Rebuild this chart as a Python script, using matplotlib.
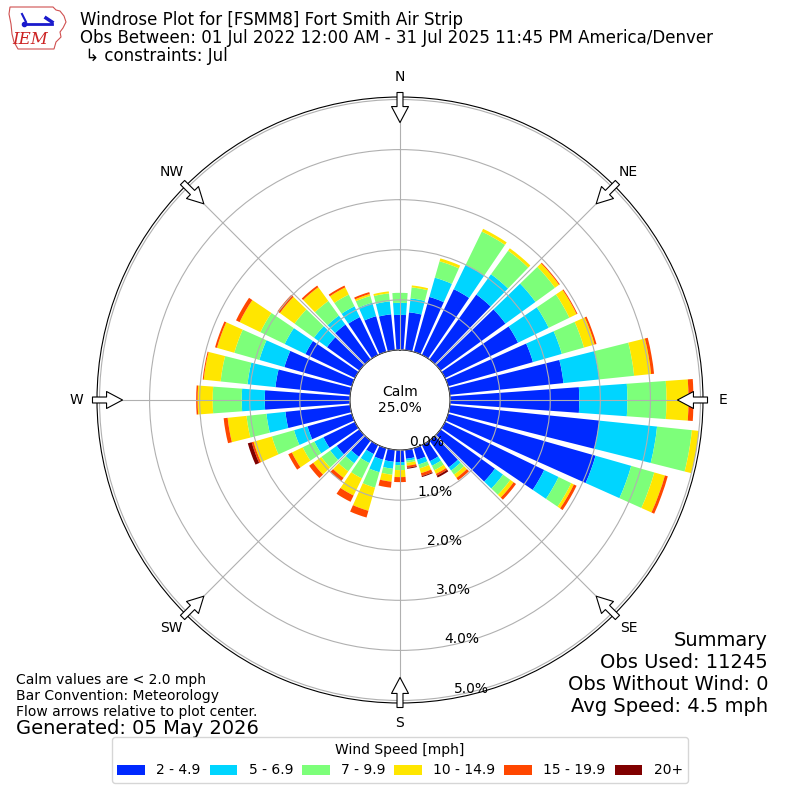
import numpy as np
import matplotlib
matplotlib.use("Agg")
import matplotlib.pyplot as plt
from matplotlib.patches import Polygon

# wind direction bins (deg, met convention) and speed bins
directions = np.arange(0, 360, 10)
speed_labels = ["2 - 4.9", "5 - 6.9", "7 - 9.9", "10 - 14.9", "15 - 19.9", "20+"]

# percent of all obs per 10 degree bin, one list per speed bin
pct_2_5 = [0.70, 0.76, 1.14, 1.46, 1.60, 1.60, 1.62, 1.76, 2.28, 2.58, 3.00, 3.06,
           2.20, 1.34, 0.66, 0.36, 0.24, 0.18, 0.24, 0.24, 0.24, 0.20, 0.40, 0.56,
           0.70, 0.92, 1.30, 1.70, 1.50, 1.40, 1.10, 0.80, 0.86, 0.84, 0.74, 0.72]
pct_5_7 = [0.24, 0.28, 0.40, 0.54, 0.50, 0.74, 0.68, 0.60, 0.72, 0.96, 1.16, 0.74,
           0.32, 0.20, 0.08, 0.10, 0.10, 0.04, 0.06, 0.14, 0.26, 0.20, 0.16, 0.16,
           0.20, 0.28, 0.38, 0.46, 0.56, 0.52, 0.46, 0.32, 0.22, 0.24, 0.28, 0.26]
pct_7_10 = [0.20, 0.22, 0.34, 0.74, 0.58, 0.48, 0.46, 0.46, 0.70, 0.78, 0.70, 0.48,
            0.28, 0.18, 0.10, 0.10, 0.08, 0.04, 0.10, 0.12, 0.32, 0.34, 0.20, 0.22,
            0.26, 0.46, 0.40, 0.58, 0.54, 0.52, 0.54, 0.48, 0.36, 0.26, 0.14, 0.16]
pct_10_15 = [0.00, 0.04, 0.06, 0.06, 0.06, 0.10, 0.16, 0.22, 0.34, 0.44, 0.14, 0.22,
             0.06, 0.08, 0.08, 0.08, 0.10, 0.06, 0.14, 0.14, 0.48, 0.38, 0.16, 0.20,
             0.24, 0.38, 0.38, 0.30, 0.34, 0.36, 0.46, 0.36, 0.34, 0.16, 0.04, 0.04]
pct_15_20 = [0.00, 0.00, 0.00, 0.00, 0.00, 0.02, 0.02, 0.04, 0.06, 0.10, 0.00, 0.06,
             0.06, 0.06, 0.06, 0.04, 0.06, 0.04, 0.10, 0.12, 0.14, 0.14, 0.08, 0.10,
             0.08, 0.04, 0.08, 0.03, 0.02, 0.04, 0.08, 0.06, 0.04, 0.04, 0.04, 0.00]
pct_20p = [0.00, 0.00, 0.00, 0.00, 0.00, 0.00, 0.00, 0.00, 0.00, 0.00, 0.00, 0.00,
           0.00, 0.00, 0.00, 0.04, 0.02, 0.02, 0.00, 0.00, 0.00, 0.00, 0.00, 0.00,
           0.00, 0.08, 0.00, 0.00, 0.00, 0.00, 0.00, 0.00, 0.00, 0.00, 0.00, 0.00]
speed_bins = [pct_2_5, pct_5_7, pct_7_10, pct_10_15, pct_15_20, pct_20p]

calm_pct = 25.0
rings = [0, 1, 2, 3, 4, 5]
compass = ["N", "NE", "E", "SE", "S", "SW", "W", "NW"]

colors = plt.cm.jet(np.linspace(0, 1, 7)[1:])

fig = plt.figure(figsize=(8, 8), dpi=100)
ax = fig.add_axes([0.12125, 0.12125, 0.7575, 0.7575], projection="polar")
ax.set_theta_zero_location("N")
ax.set_theta_direction(-1)

theta = np.radians(directions)
width = np.radians(10) * 0.82
bottom = np.zeros(len(directions))
handles = []
for vals, col, lab in zip(speed_bins, colors, speed_labels):
    vals = np.array(vals)
    b = ax.bar(theta, vals, width=width, bottom=bottom, color=col,
               linewidth=0, label=lab, zorder=2)
    handles.append(b)
    bottom += vals

ax.set_ylim(0, 5.05)
ax.set_rorigin(-1)
ax.set_axisbelow(False)
ax.set_rgrids(rings, labels=["%.1f%%" % r for r in rings], angle=169.7, fontsize=10)
ax.set_thetagrids(range(0, 360, 45), labels=compass, fontsize=10)
ax.tick_params(axis="x", pad=4)
ax.grid(True, color="#b0b0b0", linewidth=0.8)

# flow arrows at the compass points
for ang in range(0, 360, 45):
    ax.annotate("", xy=(np.radians(ang), 4.54), xytext=(np.radians(ang), 5.14),
                arrowprops=dict(arrowstyle="simple,head_length=1.15,head_width=1.22,tail_width=0.43",
                                fc="white", ec="black", lw=0.8, shrinkA=0, shrinkB=0),
                annotation_clip=False, zorder=5)

ax.text(0.5, 0.5, "Calm\n%.1f%%" % calm_pct, transform=ax.transAxes,
        ha="center", va="center", fontsize=10)

# titles
fig.text(0.1, 0.975, "Windrose Plot for [FSMM8] Fort Smith Air Strip", fontsize=12, va="center")
fig.text(0.1, 0.953, "Obs Between: 01 Jul 2022 12:00 AM - 31 Jul 2025 11:45 PM America/Denver",
         fontsize=12, va="center")
fig.text(0.1, 0.930, " \u21b3 constraints: Jul", fontsize=12, va="center")

# notes bottom left
fig.text(0.02, 0.15, "Calm values are < 2.0 mph", fontsize=10, va="center")
fig.text(0.02, 0.13, "Bar Convention: Meteorology", fontsize=10, va="center")
fig.text(0.02, 0.11, "Flow arrows relative to plot center.", fontsize=10, va="center")
fig.text(0.02, 0.089, "Generated: 05 May 2026", fontsize=14, va="center")

# summary bottom right
summary = ["Summary", "Obs Used: 11245", "Obs Without Wind: 0", "Avg Speed: 4.5 mph"]
for i, s in enumerate(summary):
    fig.text(0.96, 0.2 - i * 0.0275, s, fontsize=14, ha="right", va="center")

fig.legend(handles, speed_labels, loc="lower center", bbox_to_anchor=(0.5, 0.0125),
           ncol=6, title="Wind Speed [mph]", fontsize=10, title_fontsize=10,
           columnspacing=0.65)

# IEM logo, roughly
lax = fig.add_axes([8 / 800, 1 - 52 / 800, 60 / 800, 48 / 800])
lax.set_xlim(0, 60)
lax.set_ylim(48, 0)
lax.axis("off")
iowa = [(1, 10), (2, 3), (45, 3), (48, 6), (52, 7), (56, 12), (58, 18), (55, 24), (52, 28),
        (53, 33), (48, 38), (46, 45), (10, 45), (6, 38), (4, 30), (3, 20)]
lax.add_patch(Polygon(iowa, closed=True, fill=False, ec="#d05050", lw=0.8))
lax.plot([16, 44], [20, 20], color="#1a1acc", lw=2)
lax.plot([14, 18], [10, 18], color="#1a1acc", lw=1.5)
lax.plot([38, 44], [14, 18], color="#1a1acc", lw=2.5)
lax.plot([16], [20], "o", color="#1a1acc", ms=3)
lax.text(22, 36, "IEM", color="#cc2222", fontsize=12, style="italic",
         family="DejaVu Serif", ha="center", va="center")

fig.savefig("out.png", dpi=100)
